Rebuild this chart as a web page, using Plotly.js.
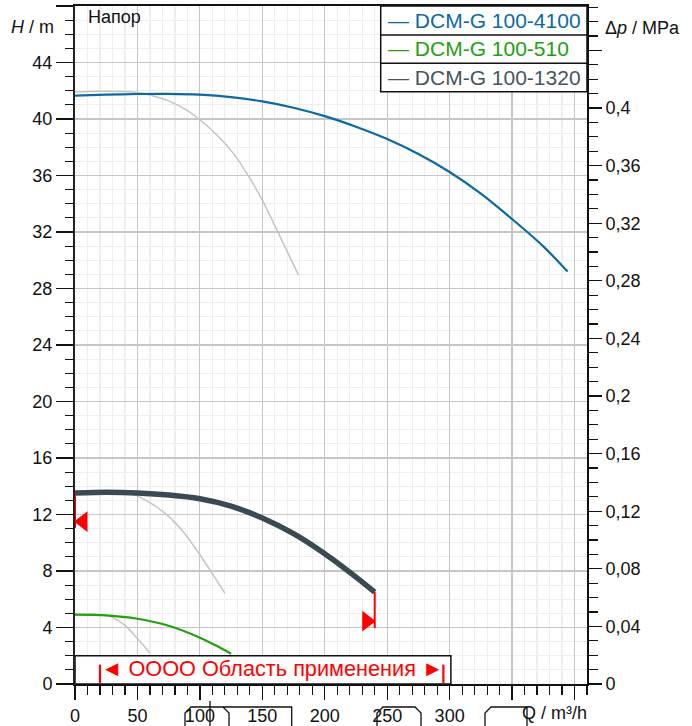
<!DOCTYPE html>
<html>
<head>
<meta charset="utf-8">
<script src="https://cdn.plot.ly/plotly-3.0.1.min.js"></script>
<style>html,body{margin:0;padding:0;background:#fff;}#chart{width:692px;height:726px;}</style>
</head>
<body>
<div id="chart"></div>
<script>
// ---- data ----
const qBlue = [0, 25, 50, 75, 100, 125, 150, 175, 200, 225, 250, 275, 300, 325, 350, 375, 394.5];
const hBlue = [41.65, 41.72, 41.77, 41.78, 41.72, 41.55, 41.25, 40.8, 40.2, 39.45, 38.58, 37.52, 36.25, 34.72, 32.92, 30.98, 29.2];

const qGreen = [0, 25, 50, 75, 100, 112.5, 125];
const hGreen = [4.91, 4.86, 4.62, 4.12, 3.28, 2.74, 2.14];

const qDark = [0, 25, 50, 75, 100, 125, 150, 175, 200, 225, 240];
const hDark = [13.52, 13.57, 13.52, 13.38, 13.12, 12.6, 11.75, 10.64, 9.22, 7.57, 6.51];

const qGrayTop = [0, 20, 40, 50, 60, 75, 90, 100, 115, 127, 139, 150, 163, 179];
const hGrayTop = [41.92, 41.97, 41.95, 41.87, 41.7, 41.28, 40.6, 39.95, 38.75, 37.55, 35.95, 34.25, 31.9, 28.95];

const qGrayMid = [0, 25, 40, 50, 62.5, 75, 87.5, 100, 110, 120];
const hGrayMid = [13.55, 13.6, 13.55, 13.3, 12.7, 11.87, 10.69, 9.15, 7.81, 6.44];

const qGrayLow = [0, 25, 30, 40, 50, 60];
const hGrayLow = [4.91, 4.87, 4.72, 4.15, 3.22, 2.19];

const seriesNames = ['DCM-G 100-4100', 'DCM-G 100-510', 'DCM-G 100-1320'];

const limitQ = [0, 240];          // operating limits on the active curve
const limitH = [13.52, 6.51];
const limitMarkH = [11.5, 4.45];
const limitLineBottom = [11.05, 3.96];

const rangeQ = [20, 295];         // application range markers
const rangeBoxQ = [0, 301];
const rangeBoxH = [0, 2];
const rangeText = '◄ OOOO Область применения ►';

const xTickVals = [0, 50, 100, 150, 200, 250, 300, 350, 400];
const xTickText = ['0', '50', '100', '150', '200', '250', '300', '', ''];
const yTickVals = [0, 4, 8, 12, 16, 20, 24, 28, 32, 36, 40, 44, 48];
const yTickText = ['0', '4', '8', '12', '16', '20', '24', '28', '32', '36', '40', '44', ''];
const pTickVals = [0, 0.04, 0.08, 0.12, 0.16, 0.2, 0.24, 0.28, 0.32, 0.36, 0.4, 0.44];
const pTickText = ['0', '0,04', '0,08', '0,12', '0,16', '0,2', '0,24', '0,28', '0,32', '0,36', '0,4', ''];

const MPA_PER_M = 0.00981;
const X_MAX = 410, Y_MAX = 48;

// ---- layout helpers ----
const L = 75, T = 6, PW = 512, PH = 678;
const px = x => (x - L) / PW;
const py = y => (T + PH - y) / PH;
const PX_PER_Q = PW / X_MAX;

const cBlue = '#0b6aa2', cGreen = '#22a00f', cDark = '#3a4a52', cGray = '#c4c4c4';
const FONT = 'Arial, "Liberation Sans", sans-serif';

const traces = [
  {x: qGrayTop, y: hGrayTop, mode: 'lines', line: {color: cGray, width: 1.5, shape: 'spline', smoothing: 0.8}},
  {x: qGrayMid, y: hGrayMid, mode: 'lines', line: {color: cGray, width: 1.5, shape: 'spline', smoothing: 0.8}},
  {x: qGrayLow, y: hGrayLow, mode: 'lines', line: {color: cGray, width: 1.5, shape: 'spline', smoothing: 0.8}},
  {x: qBlue, y: hBlue, mode: 'lines', line: {color: cBlue, width: 2.2, shape: 'spline', smoothing: 0.8}},
  {x: qGreen, y: hGreen, mode: 'lines', line: {color: cGreen, width: 2.2, shape: 'spline', smoothing: 0.8}},
  {x: qDark, y: hDark, mode: 'lines', line: {color: cDark, width: 5.5, shape: 'spline', smoothing: 0.8}},
  {x: [limitQ[0] + 8 / PX_PER_Q], y: [limitMarkH[0]], mode: 'markers', cliponaxis: false,
   marker: {symbol: 'triangle-left', size: 18, color: '#ff0000'}},
  {x: [limitQ[1] - 8 / PX_PER_Q], y: [limitMarkH[1]], mode: 'markers', cliponaxis: false,
   marker: {symbol: 'triangle-right', size: 18, color: '#ff0000'}},
  {x: [0], y: [0], yaxis: 'y2', mode: 'markers', marker: {opacity: 0}}
].map(t => Object.assign({showlegend: false, hoverinfo: 'skip'}, t));

const shapes = [];
// limit lines
for (let i = 0; i < limitQ.length; i++) {
  shapes.push({type: 'line', xref: 'x', yref: 'y', x0: limitQ[i], x1: limitQ[i], y0: limitH[i], y1: limitLineBottom[i],
               line: {color: '#ff0000', width: 2}, layer: 'above'});
}
// application range box
shapes.push({type: 'rect', xref: 'x', yref: 'y', x0: rangeBoxQ[0], x1: rangeBoxQ[1], y0: rangeBoxH[0], y1: rangeBoxH[1],
             fillcolor: '#ffffff', line: {color: '#111', width: 1.5}, layer: 'above'});
rangeQ.forEach(q => shapes.push({type: 'line', xref: 'x', yref: 'y', x0: q, x1: q, y0: 0.07, y1: 1.37,
             line: {color: '#ff0000', width: 2.2}, layer: 'above'}));
// legend box
shapes.push({type: 'rect', xref: 'paper', yref: 'paper', x0: px(380.7), x1: 1, y0: py(91.7), y1: 1,
             fillcolor: '#ffffff', line: {color: '#111', width: 1.5}, layer: 'above'});
[35, 63.3].forEach(y => shapes.push({type: 'line', xref: 'paper', yref: 'paper', x0: px(380.7), x1: 1, y0: py(y), y1: py(y),
             line: {color: '#111', width: 1.5}, layer: 'above'}));
// stray outline fragments below the axis (as in the reference)
const frag = pts => 'M' + pts.map(p => px(p[0]) + ',' + py(p[1])).join(' L');
[
  [[185, 726], [185, 713], [191, 707], [223, 707], [229, 713], [229, 726]],
  [[223, 707], [291.7, 707], [291.7, 726]],
  [[210, 701], [210, 726]],
  [[377, 726], [377, 713], [383, 707], [415, 707], [421, 713], [421, 726]],
  [[485, 726], [485, 713], [491, 707], [527, 707], [527, 726]]
].forEach(p => shapes.push({type: 'path', xref: 'paper', yref: 'paper', path: frag(p),
             line: {color: '#111', width: 1.3}, layer: 'above'}));

const legendRowsY = [20.5, 49, 77.5];
const legendColors = [cBlue, cGreen, '#45555d'];
const annotations = seriesNames.map((n, i) => ({
  xref: 'paper', yref: 'paper', x: px(386), y: py(legendRowsY[i]), xanchor: 'left', yanchor: 'middle',
  text: '— ' + n, showarrow: false, font: {family: FONT, size: 21, color: legendColors[i]}
}));
annotations.push(
  {xref: 'paper', yref: 'paper', x: px(86), y: py(17), xanchor: 'left', yanchor: 'middle', text: 'Напор',
   showarrow: false, font: {family: FONT, size: 18, color: '#111'}},
  {xref: 'paper', yref: 'paper', x: px(56), y: py(27), xanchor: 'right', yanchor: 'middle', text: '<i>H</i> / m',
   showarrow: false, font: {family: FONT, size: 18, color: '#111'}},
  {xref: 'paper', yref: 'paper', x: px(603), y: py(28), xanchor: 'left', yanchor: 'middle', text: 'Δ<i>p</i> / MPa',
   showarrow: false, font: {family: FONT, size: 18, color: '#111'}},
  {xref: 'paper', yref: 'paper', x: px(589), y: py(713), xanchor: 'right', yanchor: 'middle', text: 'Q / m³/h',
   showarrow: false, font: {family: FONT, size: 18, color: '#111'}},
  {xref: 'x', yref: 'y', x: (rangeQ[0] + rangeQ[1]) / 2, y: 1.1, xanchor: 'center', yanchor: 'middle', text: rangeText,
   showarrow: false, font: {family: FONT, size: 21.7, color: '#ff0000'}}
);

const tickFont = {family: FONT, size: 18, color: '#111'};
const layout = {
  width: 692, height: 726, autosize: false,
  margin: {l: L, r: 692 - L - PW, t: T, b: 726 - T - PH, pad: 0},
  paper_bgcolor: '#ffffff', plot_bgcolor: '#ffffff',
  showlegend: false,
  xaxis: {
    range: [0, X_MAX], tickmode: 'array', tickvals: xTickVals, ticktext: xTickText,
    ticks: 'outside', ticklen: 14, tickwidth: 1.3, tickcolor: '#111', tickfont: tickFont,
    showline: true, linecolor: '#111', linewidth: 2, mirror: true,
    showgrid: true, gridcolor: '#c6c6c6', gridwidth: 1.2, zeroline: false,
    minor: {tickmode: 'linear', tick0: 0, dtick: 10, ticks: 'outside', ticklen: 9, tickwidth: 1.2, tickcolor: '#111',
            showgrid: true, gridcolor: '#efeeec', gridwidth: 1.2}
  },
  yaxis: {
    range: [0, Y_MAX], tickmode: 'array', tickvals: yTickVals, ticktext: yTickText,
    ticks: 'outside', ticklen: 17, tickwidth: 1.3, tickcolor: '#111', tickfont: tickFont,
    showline: true, linecolor: '#222', linewidth: 2,
    showgrid: true, gridcolor: '#c6c6c6', gridwidth: 1.2, zeroline: false,
    minor: {tickmode: 'linear', tick0: 0, dtick: 1, ticks: 'outside', ticklen: 8, tickwidth: 1.2, tickcolor: '#111',
            showgrid: true, gridcolor: '#efeeec', gridwidth: 1.2}
  },
  yaxis2: {
    overlaying: 'y', side: 'right', range: [0, Y_MAX * MPA_PER_M],
    tickmode: 'array', tickvals: pTickVals, ticktext: pTickText,
    ticks: 'outside', ticklen: 13, tickwidth: 1.3, tickcolor: '#111', tickfont: tickFont,
    showline: true, linecolor: '#111', linewidth: 2, showgrid: false, zeroline: false,
    minor: {tickmode: 'linear', tick0: 0, dtick: 0.01, ticks: 'outside', ticklen: 9, tickwidth: 1.2, tickcolor: '#111',
            showgrid: false}
  },
  shapes: shapes,
  annotations: annotations
};

Plotly.newPlot('chart', traces, layout, {staticPlot: true, displayModeBar: false});
</script>
</body>
</html>
